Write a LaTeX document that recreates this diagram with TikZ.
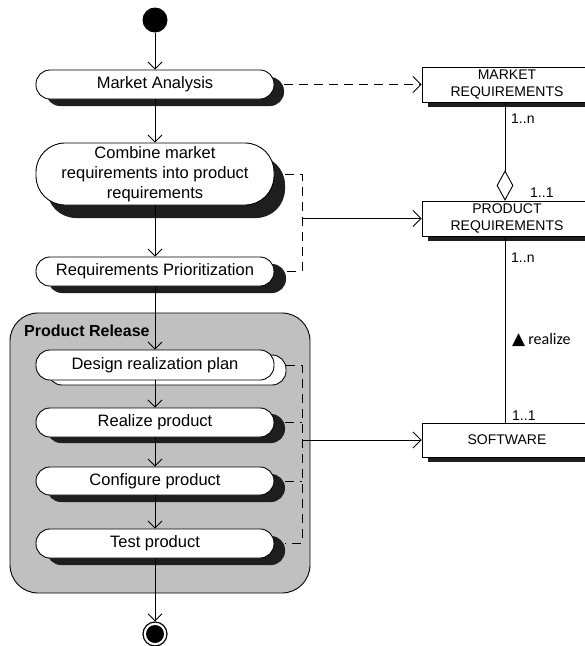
\documentclass[tikz,border=0pt]{standalone}
\usepackage{fontspec}
\setmainfont{Liberation Sans}
\newfontfamily\calibfont{Carlito}
\newfontfamily\symbfont{DejaVu Sans}
\usetikzlibrary{arrows.meta,shapes.geometric,shadows}

\definecolor{relgray}{RGB}{192,192,192}
\definecolor{shadowgray}{RGB}{30,30,30}

\tikzset{
  act/.style={draw, line width=0.9pt, fill=white, rounded corners=14pt,
    minimum width=238pt, minimum height=29pt, inner sep=0pt, align=center,
    font=\fontsize{16.5}{20}\selectfont},
  darkshadow/.style 2 args={drop shadow={shadow xshift=#1, shadow yshift=#2,
    fill=shadowgray, opacity=1}},
  lightshadow/.style 2 args={drop shadow={shadow xshift=#1, shadow yshift=#2,
    fill=white, draw=black, line width=0.9pt, opacity=1}},
  classbox/.style={draw, line width=0.9pt, fill=white, minimum width=170pt,
    minimum height=35pt, inner sep=0pt, align=center,
    font=\fontsize{14}{17}\selectfont,
    drop shadow={shadow xshift=6pt, shadow yshift=-5pt, fill=shadowgray, opacity=1}},
  mult/.style={anchor=west, inner sep=0pt, font=\fontsize{14}{16}\selectfont},
  flow/.style={line width=0.9pt, -{Straight Barb[length=7pt, width=14pt, line width=0.9pt]}},
  dep/.style={line width=0.9pt, dash pattern=on 9pt off 6pt},
  deparrow/.style={line width=0.9pt, dash pattern=on 9pt off 6pt,
    -{Straight Barb[length=8pt, width=16pt, line width=0.9pt]}},
  trace/.style={line width=0.9pt, -{Straight Barb[length=8pt, width=16pt, line width=0.9pt]}},
  assoc/.style={line width=0.9pt}
}

\begin{document}
\begin{tikzpicture}[x=1pt, y=-1pt]
  \useasboundingbox (0,0) rectangle (585,646);
  \clip (0,0) rectangle (585,646);

  % initial state
  \node[circle, fill=black, minimum size=25pt, inner sep=0pt] (start) at (155,20) {};

  % activities before the release
  \node[act, darkshadow={10pt}{-7pt}] (ma) at (155,84.5) {Market Analysis};
  \node[act, minimum height=62pt, rounded corners=29pt, darkshadow={11pt}{-13pt}] (cmb) at (155,174)
    {Combine market\\requirements into product\\requirements};
  \node[act, darkshadow={12pt}{-7pt}] (rp) at (155,271.5) {Requirements Prioritization};

  % release container
  \node[draw, line width=0.9pt, fill=relgray, rounded corners=28pt,
    minimum width=300pt, minimum height=280pt, inner sep=0pt] (rel) at (160,453) {};
  \node[anchor=west, inner sep=0pt, font=\bfseries\fontsize{16}{18}\selectfont] (reltitle) at (24,331) {Product Release};

  % activities inside the release
  \node[act, minimum height=30pt, lightshadow={12pt}{-5pt}] (drp) at (155,365) {Design realization plan};
  \node[act, darkshadow={11pt}{-6pt}] (rlz) at (155,422.5) {Realize product};
  \node[act, minimum height=28pt, darkshadow={11pt}{-7pt}] (cfg) at (155,481) {Configure product};
  \node[act, darkshadow={11pt}{-7pt}] (tst) at (155,543.5) {Test product};

  % final state
  \node[circle, draw, line width=1.2pt, fill=white, minimum size=24pt, inner sep=0pt,
    path picture={\fill[black] (path picture bounding box.center) circle (9pt);}] (fin) at (155,634) {};

  % control flow
  \draw[flow] (start) -- (ma);
  \draw[flow] (ma) -- (cmb);
  \draw[flow] (cmb) -- (rp);
  \draw[flow] (rp) -- (drp);
  \draw[flow] (drp) -- (rlz);
  \draw[flow] (rlz) -- (cfg);
  \draw[flow] (cfg) -- (tst);
  \draw[flow] (tst) -- (fin);

  % artefacts
  \node[classbox] (mreq) at (507,84.5) {MARKET\\REQUIREMENTS};
  \node[classbox] (preq) at (507,218.5) {PRODUCT\\REQUIREMENTS};
  \node[classbox, minimum height=34pt] (sw) at (507,440) {SOFTWARE};

  % aggregation and realization between artefacts
  \node[diamond, draw, line width=0.9pt, fill=white, inner sep=0pt,
    minimum width=16pt, minimum height=29pt] (agg) at (505,185.5) {};
  \draw[assoc] (mreq.south -| agg) -- (agg.north);
  \draw[assoc] (preq.south -| agg) -- (sw.north -| agg);

  \node[mult] (m1) at (511,119) {1..n};
  \node[mult] (m2) at (530,193) {1..1};
  \node[mult] (m3) at (511,258) {1..n};
  \node[mult] (m4) at (512,416) {1..1};
  \node[anchor=west, inner sep=0pt] (realize) at (512,340)
    {{\symbfont\fontsize{17}{18}\selectfont ▲}\hspace{3pt}{\calibfont\fontsize{16}{18}\selectfont realize}};

  % object flows to the artefacts
  \draw[deparrow] ([xshift=10pt]ma.east) -- (mreq.west);

  \coordinate (pbar) at (302,218.5);
  \draw[dep] ([xshift=11pt]cmb.east) -- (cmb.east -| pbar) -- (rp.east -| pbar) -- ([xshift=12pt]rp.east);
  \draw[trace] (pbar) -- (preq.west);

  \coordinate (sbar) at (302,440);
  \draw[dep] ([xshift=12pt]drp.east) -- (drp.east -| sbar) -- (tst.east -| sbar) -- ([xshift=11pt]tst.east);
  \draw[dep] ([xshift=11pt]rlz.east) -- (rlz.east -| sbar);
  \draw[dep] ([xshift=11pt]cfg.east) -- (cfg.east -| sbar);
  \draw[trace] (sbar) -- (sw.west);
\end{tikzpicture}
\end{document}
